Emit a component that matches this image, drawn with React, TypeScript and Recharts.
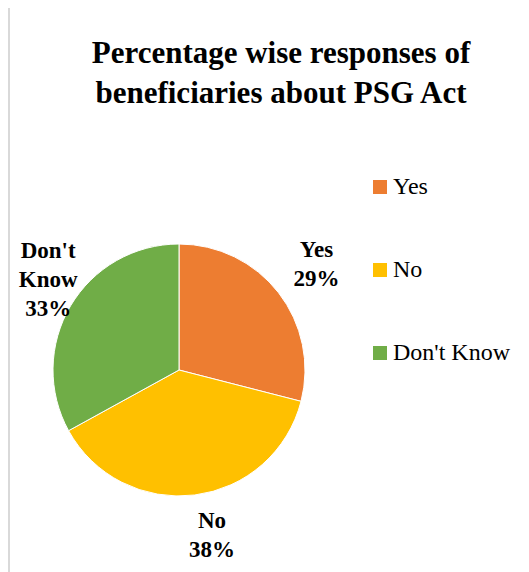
import React from 'react';
import { PieChart, Pie, Cell, Legend } from 'recharts';

const categories = ['Yes', 'No', "Don't Know"];
const shares = [29, 38, 33];
const colors = ['#ED7D31', '#FFC000', '#70AD47'];
const labelLines = [['Yes', '29%'], ['No', '38%'], ["Don't", 'Know', '33%']];

const data = categories.map((name, i) => ({ name, value: shares[i] }));

const FONT =
  '"Liberation Serif", Tinos, "Nimbus Roman", "Nimbus Roman No9 L", FreeSerif, "DejaVu Serif", "Times New Roman", Times, serif';
const RAD = Math.PI / 180;

// label placement tweaks (radial gap past the rim, then a small nudge) to mimic Excel's best fit
const labelGap = [48, 42, 26];
const labelNudge = [
  [0, 0],
  [12, -2],
  [0, -14],
];

const renderLabel = (props: any) => {
  const { cx, cy, midAngle, outerRadius, index } = props;
  const r = outerRadius + labelGap[index];
  const x = cx + r * Math.cos(-midAngle * RAD) + labelNudge[index][0];
  const y = cy + r * Math.sin(-midAngle * RAD) + labelNudge[index][1];
  const lines = labelLines[index];
  const lh = 29;
  const y0 = y - ((lines.length - 1) * lh) / 2;
  return (
    <text
      x={x}
      y={y0}
      textAnchor="middle"
      dominantBaseline="central"
      fill="#000"
      style={{ fontFamily: FONT, fontSize: 23, fontWeight: 'bold' }}
    >
      {lines.map((l, i) => (
        <tspan key={i} x={x} y={y0 + i * lh}>
          {l}
        </tspan>
      ))}
    </text>
  );
};

// legend drawn in category order (Recharts hands the pie payload over reversed)
const renderLegend = () => (
  <div style={{ fontFamily: FONT }}>
    {categories.map((name, i) => (
      <div
        key={`leg-${i}`}
        style={{ display: 'flex', alignItems: 'center', height: 83, fontSize: 24, color: '#000' }}
      >
        <span style={{ width: 14, height: 14, background: colors[i], marginRight: 6, display: 'inline-block' }} />
        <span>{name}</span>
      </div>
    ))}
  </div>
);

export default function App() {
  return (
    <div
      style={{
        position: 'relative',
        marginTop: -3,
        width: 540,
        height: 580,
        borderLeft: '2px solid #d9d9d9',
        borderTop: '2px solid #d9d9d9',
        fontFamily: FONT,
      }}
    >
      <div
        style={{
          position: 'absolute',
          left: 0,
          top: 26,
          width: 542,
          textAlign: 'center',
          fontSize: 31,
          fontWeight: 'bold',
          lineHeight: '40px',
          color: '#000',
        }}
      >
        Percentage wise responses of
        <br />
        beneficiaries about PSG Act
      </div>
      <PieChart width={540} height={580} margin={{ top: 0, right: 0, bottom: 0, left: 0 }}>
        <Pie
          data={data}
          dataKey="value"
          nameKey="name"
          cx={169}
          cy={363}
          outerRadius={126}
          startAngle={90}
          endAngle={-270}
          stroke="#ffffff"
          strokeWidth={1}
          label={renderLabel}
          labelLine={false}
          isAnimationActive={false}
        >
          {data.map((entry, i) => (
            <Cell key={`cell-${i}`} fill={colors[i]} />
          ))}
        </Pie>
        <Legend
          layout="vertical"
          content={renderLegend}
          wrapperStyle={{ position: 'absolute', left: 363, top: 138, width: 170 }}
        />
      </PieChart>
    </div>
  );
}
